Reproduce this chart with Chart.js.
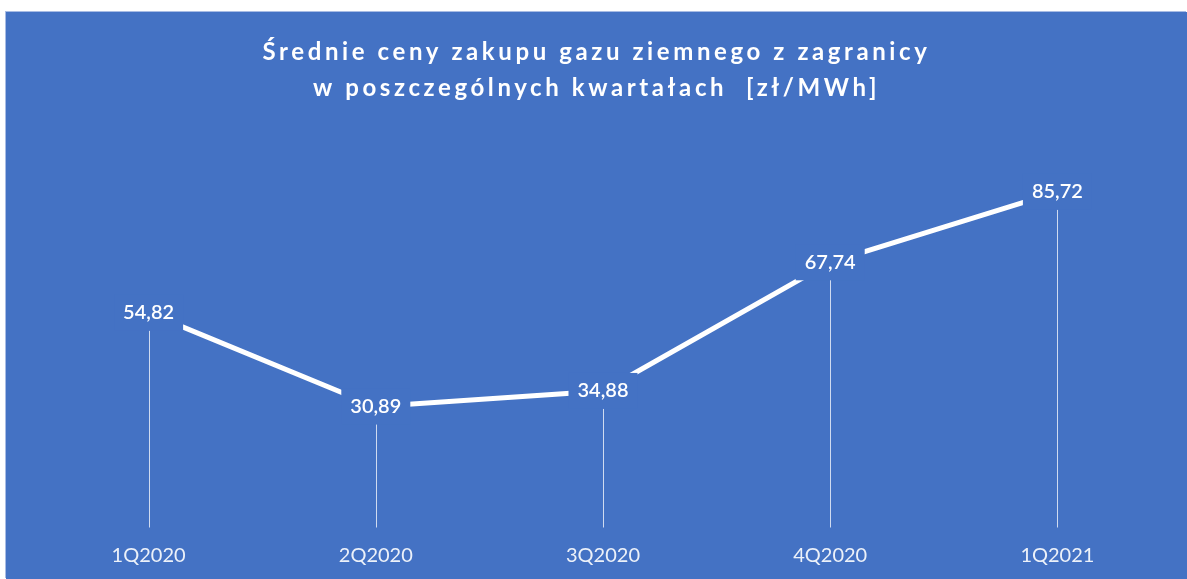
<!DOCTYPE html>
<html>
<head>
<meta charset="utf-8">
<script src="https://cdn.jsdelivr.net/npm/chart.js@4.4.1/dist/chart.umd.min.js"></script>
<style>
  html, body { margin: 0; padding: 0; background: #ffffff; }
  #wrap { position: absolute; left: 6px; top: 12px; width: 1181px; height: 567px;
          box-shadow: -1px -1px 0 #a8bce4; }
</style>
</head>
<body>
<div id="wrap"><canvas id="c"></canvas></div>
<script>
const categories = ['1Q2020', '2Q2020', '3Q2020', '4Q2020', '1Q2021'];
const prices = [54.82, 30.89, 34.88, 67.74, 85.72];
const titleLines = ['Średnie ceny zakupu gazu ziemnego z zagranicy', 'w poszczególnych kwartałach  [zł/MWh]'];

const BG = '#4472C4';
const FONT = 'Lato, "Open Sans", sans-serif';

const bgPlugin = {
  id: 'bg',
  beforeDraw(chart) {
    const ctx = chart.ctx;
    ctx.save();
    ctx.fillStyle = BG;
    ctx.fillRect(0, 0, chart.width, chart.height);
    ctx.restore();
  }
};

const titlePlugin = {
  id: 'spacedTitle',
  afterDraw(chart) {
    const ctx = chart.ctx;
    ctx.save();
    ctx.fillStyle = '#ffffff';
    ctx.font = 'bold 24px ' + FONT;
    ctx.textAlign = 'center';
    ctx.textBaseline = 'alphabetic';
    ctx.letterSpacing = '3.6px';
    const cx = chart.width / 2;
    ctx.fillText(titleLines[0], cx, 48);
    ctx.fillText(titleLines[1], cx, 83.5);
    ctx.restore();
  }
};

const dropLinePlugin = {
  id: 'dropLines',
  beforeDatasetsDraw(chart) {
    const ctx = chart.ctx;
    const meta = chart.getDatasetMeta(0);
    const bottom = chart.chartArea.bottom;
    ctx.save();
    ctx.strokeStyle = 'rgba(255,255,255,0.75)';
    ctx.lineWidth = 1;
    meta.data.forEach(pt => {
      const x = Math.round(pt.x) + 0.5;
      ctx.beginPath();
      ctx.moveTo(x, pt.y);
      ctx.lineTo(x, bottom);
      ctx.stroke();
    });
    ctx.restore();
  }
};

const labelPlugin = {
  id: 'valueLabels',
  afterDatasetsDraw(chart) {
    const ctx = chart.ctx;
    const meta = chart.getDatasetMeta(0);
    ctx.save();
    ctx.font = '600 20px ' + FONT;
    ctx.textAlign = 'center';
    ctx.textBaseline = 'middle';
    meta.data.forEach((pt, i) => {
      const txt = prices[i].toFixed(2).replace('.', ',');
      const w = ctx.measureText(txt).width;
      const hw = w / 2 + 9, hh = 18;
      ctx.fillStyle = BG;
      ctx.fillRect(pt.x - hw, pt.y - hh, hw * 2, hh * 2);
      ctx.fillStyle = '#ffffff';
      ctx.fillText(txt, pt.x, pt.y);
    });
    ctx.restore();
  }
};

new Chart(document.getElementById('c'), {
  type: 'line',
  data: {
    labels: categories,
    datasets: [{
      data: prices,
      borderColor: '#ffffff',
      borderWidth: 5,
      pointRadius: 0,
      tension: 0,
      fill: false
    }]
  },
  options: {
    responsive: true,
    maintainAspectRatio: false,
    animation: false,
    layout: { padding: { left: 29, right: 16, top: 124, bottom: 0 } },
    plugins: { legend: { display: false }, tooltip: { enabled: false }, title: { display: false } },
    scales: {
      x: {
        offset: true,
        grid: { display: false, drawTicks: false },
        border: { display: false },
        ticks: { color: 'rgba(255,255,255,0.9)', font: { family: FONT, size: 20 }, padding: 16, maxRotation: 0 },
        afterFit(scale) { scale.height = 51.5; }
      },
      y: {
        display: false,
        min: 0,
        max: 100
      }
    }
  },
  plugins: [bgPlugin, dropLinePlugin, labelPlugin, titlePlugin]
});
</script>
</body>
</html>
